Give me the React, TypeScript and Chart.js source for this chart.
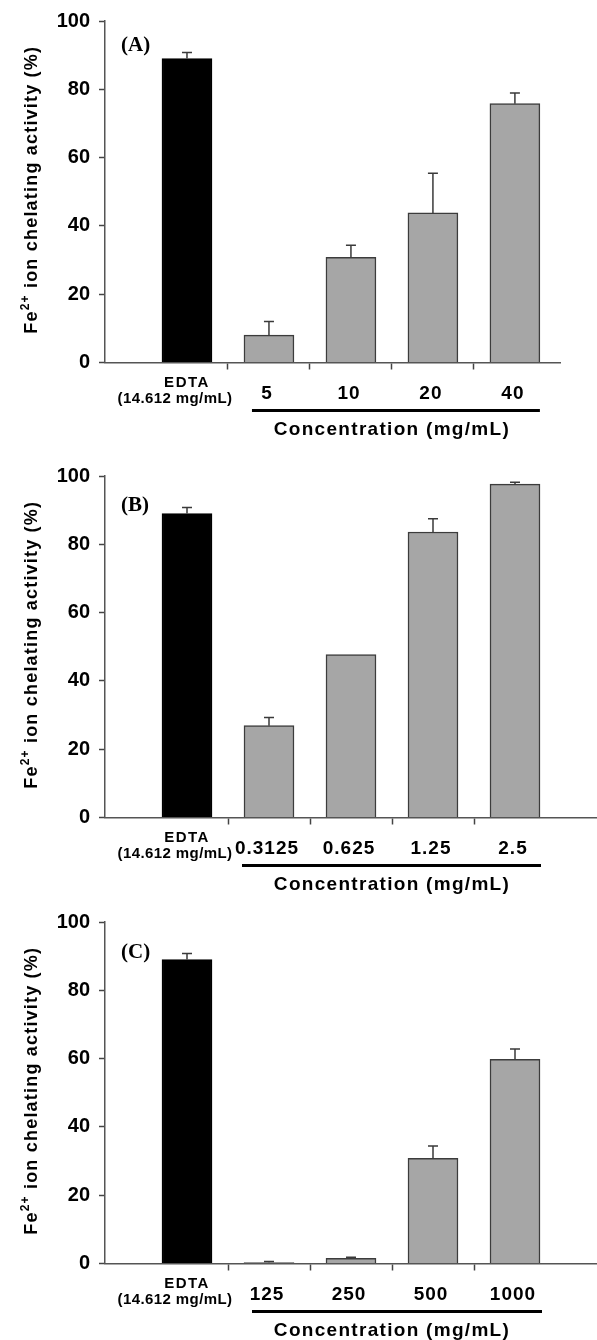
import React, { useEffect, useRef } from 'react';
import { Chart, registerables } from 'chart.js';

Chart.register(...registerables);

// ---------------- data ----------------
const panelLabels = ['(A)', '(B)', '(C)'];
const edtaLabel = ['EDTA', '(14.612 mg/mL)'];
const concLabelsA = ['5', '10', '20', '40'];
const concLabelsB = ['0.3125', '0.625', '1.25', '2.5'];
const concLabelsC = ['125', '250', '500', '1000'];
const valuesA = [89.0, 8.0, 30.8, 43.8, 75.8];
const errorsA = [1.8, 4.0, 3.5, 11.6, 3.1];
const valuesB = [89.0, 26.9, 47.7, 83.6, 97.6];
const errorsB = [1.8, 2.4, 0, 3.9, 0.6];
const valuesC = [89.0, 0.3, 1.5, 30.8, 59.8];
const errorsC = [1.8, 0.3, 0.3, 3.6, 3.0];
const yTicks = [0, 20, 40, 60, 80, 100];
const yTitleMain = 'Fe';
const yTitleSup = '2+';
const yTitleRest = ' ion chelating activity (%)';
const xTitle = 'Concentration (mg/mL)';

const SANS = '"Liberation Sans", Arial, Helvetica, sans-serif';
const SERIF = '"Liberation Serif", "Times New Roman", serif';

type PanelCfg = {
  label: string;
  conc: string[];
  values: number[];
  errors: number[];
  top: number;
  h: number;
  xMax: number;
  padRight: number;
  labelDy: number;
  ulStart: number;
  ulEnd: number;
};

const PLOT_H = 342.5;
const PLOT_TOP = 20;

const panels: PanelCfg[] = [
  { label: panelLabels[0], conc: concLabelsA, values: valuesA, errors: errorsA, top: 0, h: 445, xMax: 5.55, padRight: 37, labelDy: 25, ulStart: -17, ulEnd: 25 },
  { label: panelLabels[1], conc: concLabelsB, values: valuesB, errors: errorsB, top: 455, h: 445, xMax: 6.0, padRight: 0, labelDy: 30, ulStart: -27, ulEnd: 26 },
  { label: panelLabels[2], conc: concLabelsC, values: valuesC, errors: errorsC, top: 901, h: 439, xMax: 6.0, padRight: 0, labelDy: 31, ulStart: -17, ulEnd: 27 },
];

function setLS(ctx: any, v: number) {
  try {
    ctx.letterSpacing = `${v}px`;
  } catch (e) {
    /* ignore */
  }
}

const decorPlugin = {
  id: 'decor',
  afterDatasetsDraw(chart: any, _args: any, opts: any) {
    const { ctx } = chart;
    const ys = chart.scales.y;
    const meta = chart.getDatasetMeta(0);
    const vals: number[] = opts.values;
    const errs: number[] = opts.errors;
    ctx.save();
    ctx.strokeStyle = '#3a3a3a';
    ctx.lineWidth = 1.5;
    meta.data.forEach((el: any, i: number) => {
      if (!errs[i]) return;
      const yTop = ys.getPixelForValue(vals[i] + errs[i]);
      ctx.beginPath();
      ctx.moveTo(el.x, el.y);
      ctx.lineTo(el.x, yTop);
      ctx.moveTo(el.x - 5, yTop);
      ctx.lineTo(el.x + 5, yTop);
      ctx.stroke();
    });
    ctx.restore();
  },
  afterDraw(chart: any, _args: any, opts: any) {
    const { ctx, chartArea } = chart;
    const xs = chart.scales.x;
    const ys = chart.scales.y;
    const base = ys.getPixelForValue(0);
    ctx.save();
    ctx.fillStyle = '#000';
    ctx.textAlign = 'center';
    ctx.textBaseline = 'middle';
    // EDTA label
    const xE = xs.getPixelForValue(1);
    ctx.font = `bold 15px ${SANS}`;
    setLS(ctx, 1.5);
    ctx.fillText(edtaLabel[0], xE, base + 20);
    setLS(ctx, 0.4);
    ctx.fillText(edtaLabel[1], xE - 12, base + 36);
    // concentration labels
    ctx.font = `bold 19px ${SANS}`;
    setLS(ctx, 1);
    (opts.conc as string[]).forEach((l, i) => {
      ctx.fillText(l, xs.getPixelForValue(i + 2) - 2, base + 31);
    });
    // underline
    const xs0 = xs.getPixelForValue(2);
    const xs1 = xs.getPixelForValue(opts.conc.length + 1);
    ctx.strokeStyle = '#000';
    ctx.lineWidth = 3;
    ctx.beginPath();
    ctx.moveTo(xs0 + opts.ulStart, base + 48);
    ctx.lineTo(xs1 + opts.ulEnd, base + 48);
    ctx.stroke();
    // x title
    ctx.font = `bold 19px ${SANS}`;
    setLS(ctx, 1.3);
    ctx.fillText(xTitle, (xs0 + xs1) / 2, base + 67);
    // panel label
    setLS(ctx, 0);
    ctx.font = `bold 21px ${SERIF}`;
    ctx.textAlign = 'left';
    ctx.fillText(opts.label, 121, chartArea.top + opts.labelDy);
    // y title with superscript
    const big = `bold 18px ${SANS}`;
    const small = `bold 12px ${SANS}`;
    setLS(ctx, 1.2);
    ctx.font = big;
    const w1 = ctx.measureText(yTitleMain).width;
    const w3 = ctx.measureText(yTitleRest).width;
    ctx.font = small;
    const w2 = ctx.measureText(yTitleSup).width;
    const total = w1 + w2 + w3;
    const cy = (chartArea.top + chartArea.bottom) / 2 - 2;
    ctx.translate(37, cy);
    ctx.rotate(-Math.PI / 2);
    ctx.textBaseline = 'alphabetic';
    let px = -total / 2;
    ctx.font = big;
    ctx.fillText(yTitleMain, px, 0);
    px += w1;
    ctx.font = small;
    ctx.fillText(yTitleSup, px, -8);
    px += w2;
    ctx.font = big;
    ctx.fillText(yTitleRest, px, 0);
    ctx.restore();
  },
};

function Panel({ cfg }: { cfg: PanelCfg }) {
  const ref = useRef<HTMLCanvasElement | null>(null);
  useEffect(() => {
    if (!ref.current) return;
    const chart = new Chart(ref.current, {
      type: 'bar',
      data: {
        datasets: [
          {
            data: cfg.values.map((v, i) => ({ x: i + 1, y: v })),
            backgroundColor: cfg.values.map((_, i) => (i === 0 ? '#000000' : '#a6a6a6')),
            borderColor: cfg.values.map((_, i) => (i === 0 ? '#000000' : '#3c3c3c')),
            borderWidth: 1.5,
            barThickness: 50,
          } as any,
        ],
      },
      options: {
        responsive: false,
        animation: false,
        events: [],
        layout: { padding: { top: PLOT_TOP, left: 0, right: cfg.padRight, bottom: 0 } },
        plugins: {
          legend: { display: false },
          tooltip: { enabled: false },
          decor: { ...cfg },
        } as any,
        scales: {
          x: {
            type: 'linear',
            min: 0,
            max: cfg.xMax,
            offset: false,
            afterBuildTicks: (s: any) => {
              s.ticks = cfg.values.map((_, i) => ({ value: i + 1 }));
            },
            ticks: { display: false },
            grid: {
              display: true,
              drawOnChartArea: false,
              drawTicks: true,
              tickLength: 7,
              tickWidth: 1.5,
              tickColor: (c: any) => (c.tick && c.tick.value >= 2 ? '#444444' : 'rgba(0,0,0,0)'),
            },
            border: { display: true, color: '#555555', width: 1.5 },
            afterFit: (s: any) => {
              s.height = cfg.h - PLOT_TOP - PLOT_H;
            },
          } as any,
          y: {
            min: 0,
            max: 100,
            afterBuildTicks: (s: any) => {
              s.ticks = yTicks.map((v) => ({ value: v }));
            },
            ticks: { font: { family: SANS, size: 20, weight: 'bold' }, color: '#000000', padding: 9 },
            grid: {
              drawOnChartArea: false,
              drawTicks: true,
              tickLength: 6,
              tickWidth: 1.5,
              tickColor: '#444444',
            },
            border: { display: true, color: '#555555', width: 1.5 },
            afterFit: (s: any) => {
              s.width = 105;
            },
          } as any,
        },
      },
      plugins: [decorPlugin as any],
    });
    return () => chart.destroy();
  }, []);
  return (
    <canvas
      ref={ref}
      width={597}
      height={cfg.h}
      style={{ position: 'absolute', left: 0, top: cfg.top, display: 'block' }}
    />
  );
}

export default function App() {
  return (
    <div style={{ position: 'absolute', left: 0, top: 0, width: 597, height: 1340, background: '#ffffff', overflow: 'hidden' }}>
      {panels.map((p) => (
        <Panel key={p.label} cfg={p} />
      ))}
    </div>
  );
}
